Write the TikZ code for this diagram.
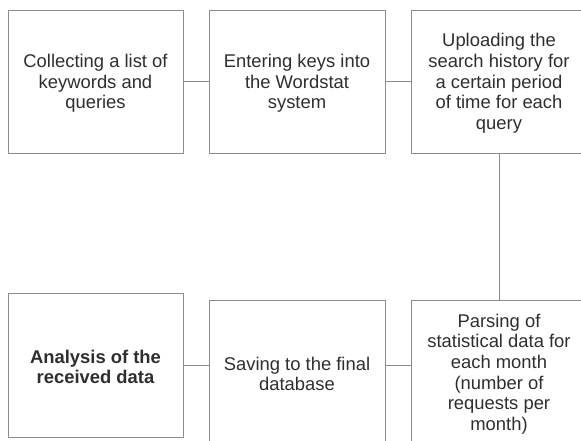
\documentclass[tikz,border=0pt]{standalone}
\usepackage{fontspec}
\setmainfont{Liberation Sans}
\begin{document}
\begin{tikzpicture}[x=1pt,y=-1pt,
  stepbox/.style={draw=boxgray, line width=1pt, rectangle, inner sep=0pt},
  steptext/.style={inner sep=0pt, align=center, text=txt, yshift=-2pt,
    font=\fontsize{18.4}{20.7}\selectfont},
  link/.style={draw=boxgray, line width=1pt}]
\definecolor{boxgray}{HTML}{8C8C8C}
\definecolor{txt}{HTML}{2E2E2E}
\useasboundingbox (0,0) rectangle (581,440);
\clip (0,0) rectangle (581,440);
% top row
\node[stepbox, minimum width=175pt, minimum height=143pt,
  label={[steptext]center:{Collecting a list of\\keywords and\\queries}}]
  (a1) at (95.5,81.5) {};
\node[stepbox, minimum width=176pt, minimum height=143pt,
  label={[steptext]center:{Entering keys into\\the Wordstat\\system}}]
  (a2) at (297,81.5) {};
\node[stepbox, minimum width=176pt, minimum height=143pt,
  label={[steptext]center:{Uploading the\\search history for\\a certain period\\of time for each\\query}}]
  (a3) at (499,81.5) {};
% bottom row
\node[stepbox, minimum width=175pt, minimum height=144pt,
  label={[steptext, font=\fontsize{18.4}{20.7}\selectfont\bfseries]center:{Analysis of the\\received data}}]
  (b1) at (95.5,365) {};
\node[stepbox, minimum width=176pt, minimum height=144pt,
  label={[steptext]center:{Saving to the final\\database}}]
  (b2) at (297,372) {};
\node[stepbox, minimum width=176pt, minimum height=144pt,
  label={[steptext]center:{Parsing of\\statistical data for\\each month\\(number of\\requests per\\month)}}]
  (b3) at (499,372) {};
% connectors
\draw[link] (a1.east) -- (a2.west);
\draw[link] (a2.east) -- (a3.west);
\draw[link] (a3.south) -- (b3.north);
\draw[link] (b1.east) -- (b1.east -| b2.west);
\draw[link] (b1.east -| b2.east) -- (b1.east -| b3.west);
\end{tikzpicture}
\end{document}
